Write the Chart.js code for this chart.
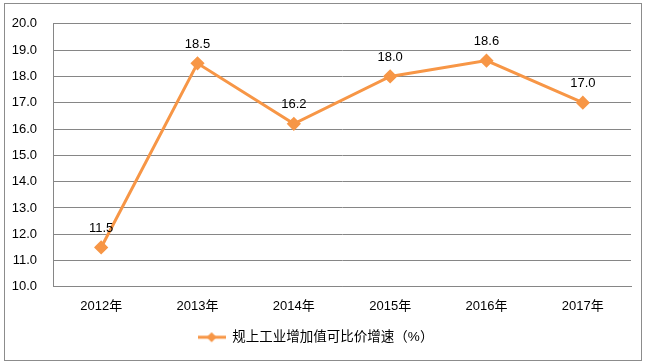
<!DOCTYPE html>
<html>
<head>
<meta charset="utf-8">
<script src="https://cdn.jsdelivr.net/npm/chart.js@4"></script>
<style>
  html, body { margin: 0; padding: 0; background: #fff; }
  #wrap { position: relative; width: 649px; height: 364px; }
  #frame { position: absolute; left: 4px; top: 3px; width: 636px; height: 356px; border: 1px solid #8c8c8c; }
</style>
</head>
<body>
<div id="wrap">
  <div id="frame"></div>
  <canvas id="chart" width="649" height="364"></canvas>
</div>
<script>
const years = ['2012年', '2013年', '2014年', '2015年', '2016年', '2017年'];
const growth = [11.5, 18.5, 16.2, 18.0, 18.6, 17.0];
const seriesName = '规上工业增加值可比价增速（%）';

const orange = '#F79646';
const fontFamily = '"Liberation Sans", "Noto Sans CJK SC", sans-serif';

// legend marker: short line with a diamond in the middle
const legendIcon = document.createElement('canvas');
legendIcon.width = 28;
legendIcon.height = 12;
const lctx = legendIcon.getContext('2d');
lctx.strokeStyle = orange;
lctx.lineWidth = 3;
lctx.beginPath();
lctx.moveTo(0, 6);
lctx.lineTo(28, 6);
lctx.stroke();
lctx.fillStyle = orange;
lctx.beginPath();
lctx.moveTo(14, 1);
lctx.lineTo(19, 6);
lctx.lineTo(14, 11);
lctx.lineTo(9, 6);
lctx.closePath();
lctx.fill();

const valueLabels = {
    id: 'valueLabels',
    afterDatasetsDraw(chart) {
        const ctx = chart.ctx;
        const meta = chart.getDatasetMeta(0);
        ctx.save();
        ctx.font = '13px ' + fontFamily;
        ctx.fillStyle = '#000';
        ctx.textAlign = 'center';
        ctx.textBaseline = 'middle';
        meta.data.forEach((pt, i) => {
            ctx.fillText(growth[i].toFixed(1), pt.x, pt.y - 19);
        });
        ctx.restore();
    }
};

const ctx = document.getElementById('chart').getContext('2d');
const chart = new Chart(ctx, {
    type: 'line',
    data: {
        labels: years,
        datasets: [{
            label: seriesName,
            data: growth,
            borderColor: orange,
            backgroundColor: orange,
            borderWidth: 3,
            pointStyle: 'rectRot',
            pointRadius: 5,
            pointHoverRadius: 5,
            tension: 0
        }]
    },
    options: {
        responsive: false,
        animation: false,
        layout: { padding: { left: 0, right: 18, top: 19, bottom: 10 } },
        scales: {
            x: {
                offset: true,
                afterFit(scale) { scale.height -= 11; },
                grid: { display: false, drawTicks: false },
                border: { color: '#868686', width: 1 },
                ticks: { color: '#000', font: { size: 13, family: fontFamily }, padding: 12 }
            },
            y: {
                min: 10,
                max: 20,
                afterFit(scale) { scale.width = 53; },
                grid: { color: '#868686', drawTicks: false },
                border: { color: '#868686', width: 1 },
                ticks: {
                    stepSize: 1,
                    color: '#000',
                    padding: 16,
                    font: { size: 13, family: fontFamily },
                    callback: v => v.toFixed(1)
                }
            }
        },
        plugins: {
            legend: {
                position: 'bottom',
                labels: {
                    usePointStyle: true,
                    pointStyle: legendIcon,
                    pointStyleWidth: 28,
                    color: '#000',
                    padding: 15,
                    font: { size: 13.5, family: fontFamily }
                }
            },
            tooltip: { enabled: false }
        }
    },
    plugins: [valueLabels]
});
</script>
</body>
</html>
